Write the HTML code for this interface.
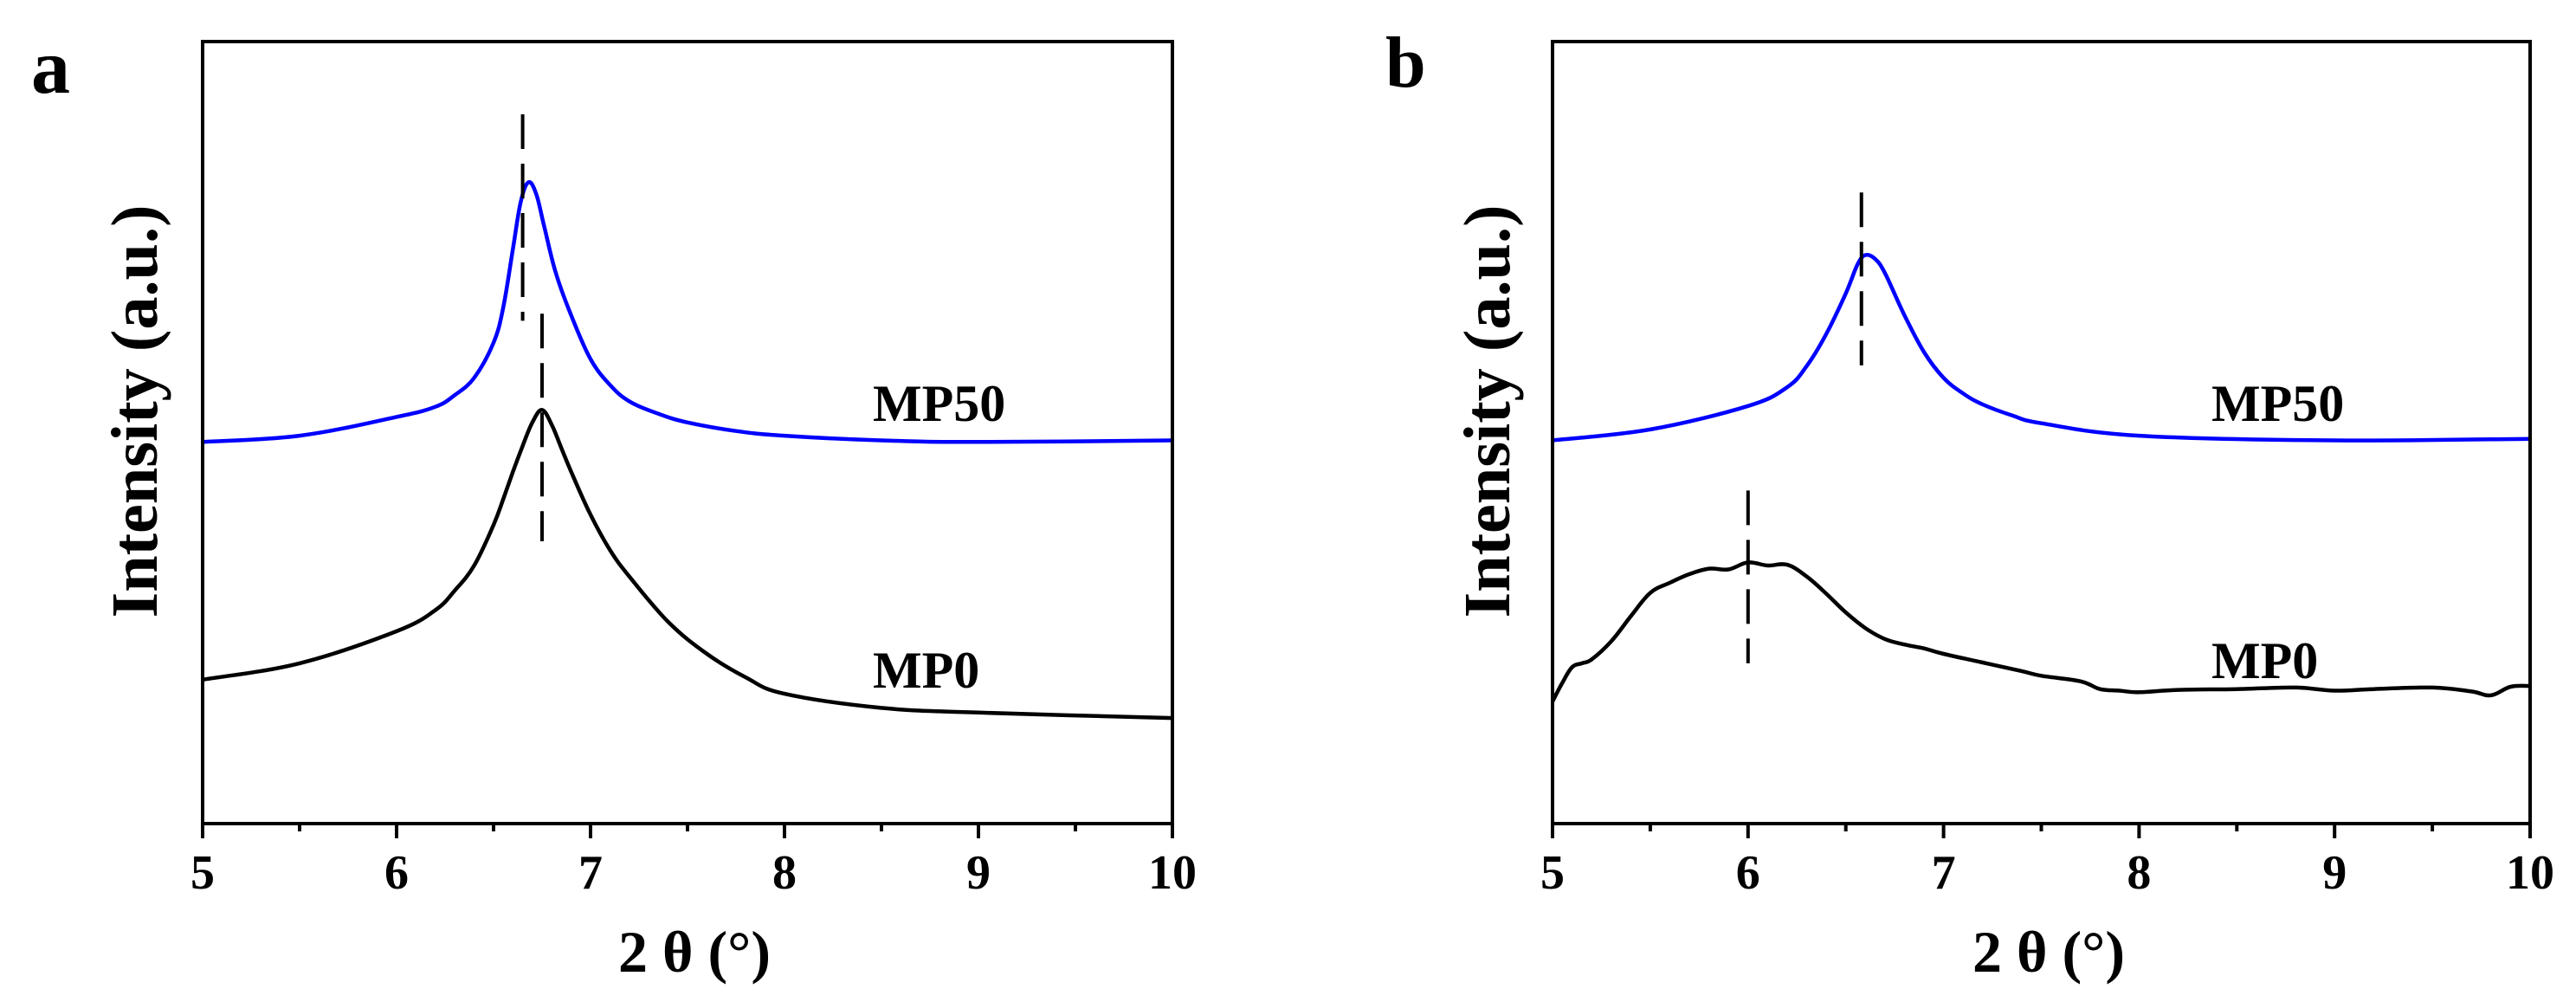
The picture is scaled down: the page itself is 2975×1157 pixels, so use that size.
<!DOCTYPE html>
<html><head><meta charset="utf-8"><style>
html,body{margin:0;padding:0;background:#fff;}
svg{display:block;font-family:"Liberation Serif",serif;font-weight:bold;}
</style></head><body>
<svg id="fig" width="2975" height="1157" viewBox="0 0 2975 1157" xmlns="http://www.w3.org/2000/svg">
<rect width="2975" height="1157" fill="#fff"/>
</svg>
<script>
// ----- data -----
const xTicks = [5,6,7,8,9,10];
const xMinor = [5.5,6.5,7.5,8.5,9.5];
const aMP50x = [5,5.5,6.0,6.2,6.3,6.4,6.5,6.55,6.6,6.64,6.68,6.72,6.76,6.82,6.9,7.0,7.1,7.2,7.35,7.5,7.75,8,8.5,9,10];
const aMP50y = [48.8,49.6,52.0,53.3,54.8,57.0,61.5,66.0,73.5,79.5,82.0,80.5,76.5,70.5,65.0,59.4,56.1,54.0,52.4,51.3,50.2,49.6,49.0,48.8,49.0];
const aMP0x = [5,5.5,6.0,6.2,6.3,6.4,6.5,6.55,6.6,6.65,6.7,6.75,6.8,6.85,6.9,7.0,7.1,7.2,7.4,7.6,7.8,8.0,8.5,9,10];
const aMP0y = [18.4,20.5,24.6,27.3,29.8,33.0,38.2,41.5,45.0,48.3,51.3,52.9,51.0,48.0,45.0,39.5,35.0,31.6,25.8,21.7,18.7,16.6,14.8,14.2,13.5];
const bMP50x = [5,5.5,6.0,6.2,6.3,6.4,6.5,6.56,6.6,6.65,6.7,6.8,6.9,7.0,7.1,7.2,7.35,7.5,8,9,10];
const bMP50y = [49.0,50.4,53.4,55.8,58.5,62.6,67.8,71.5,72.7,72.2,70.4,65.0,60.3,57.0,55.0,53.6,52.2,51.2,49.6,49.0,49.2];
const bMP0x = [5,5.05,5.1,5.15,5.2,5.3,5.4,5.5,5.6,5.7,5.8,5.9,6.0,6.1,6.2,6.3,6.4,6.5,6.6,6.7,6.8,6.9,7.0,7.2,7.4,7.5,7.7,7.8,7.9,8,8.2,8.5,8.8,9,9.2,9.5,9.7,9.8,9.9,10];
const bMP0y = [15.6,18.0,20.0,20.5,21.0,23.3,26.5,29.5,30.8,31.9,32.6,32.5,33.4,33.0,33.1,31.6,29.4,27.0,25.0,23.6,22.9,22.4,21.7,20.6,19.5,18.9,18.2,17.2,17.0,16.8,17.1,17.2,17.4,17.0,17.2,17.4,16.9,16.4,17.5,17.6];
const aDashX = [6.65,6.75];
const aDashY0 = [64.3,36.1];
const aDashY1 = [90.7,65.2];
const bDashX = [6.58,6.0];
const bDashY0 = [58.6,20.5];
const bDashY1 = [80.7,42.6];

const NS="http://www.w3.org/2000/svg";
const svg=document.getElementById('fig');
function mk(tag,attrs,parent){const e=document.createElementNS(NS,tag);for(const k in attrs)e.setAttribute(k,attrs[k]);(parent||svg).appendChild(e);return e;}

function smoothPath(pts){
  let d='M'+pts[0][0].toFixed(1)+' '+pts[0][1].toFixed(1);
  for(let i=0;i<pts.length-1;i++){
    const p0=pts[i-1]||pts[i],p1=pts[i],p2=pts[i+1],p3=pts[i+2]||p2;
    const t=0.18;
    const c1=[p1[0]+(p2[0]-p0[0])*t,p1[1]+(p2[1]-p0[1])*t];
    const c2=[p2[0]-(p3[0]-p1[0])*t,p2[1]-(p3[1]-p1[1])*t];
    d+='C'+c1[0].toFixed(1)+' '+c1[1].toFixed(1)+' '+c2[0].toFixed(1)+' '+c2[1].toFixed(1)+' '+p2[0].toFixed(1)+' '+p2[1].toFixed(1);
  }
  return d;
}

function panel(cfg){
  const g=mk('g',{});
  
  
  const L=cfg.left,R=cfg.right,T=48,B=951;
  const sx=v=>L+(v-5)/5*(R-L);
  const sy=v=>B-v/100*(B-T);
  cfg.series.forEach(s=>{
    const pts=s.x.map((xv,i)=>[sx(xv),sy(s.y[i])]);
    const p=mk('path',{d:smoothPath(pts),fill:'none',stroke:s.color,'stroke-width':4.5,'stroke-linejoin':'round'},g);
    
    
  });
  cfg.dx.forEach((xv,i)=>{
    const l=mk('line',{x1:sx(xv),x2:sx(xv),y1:sy(cfg.dy1[i]),y2:sy(cfg.dy0[i]),stroke:'#000','stroke-width':4,'stroke-dasharray':'40 17'},g);
    
    
  });
  const f=mk('rect',{x:L,y:T,width:R-L,height:B-T,fill:'none',stroke:'#000','stroke-width':4},g);
  
  
  xTicks.forEach(t=>{
    const tk=mk('line',{x1:sx(t),x2:sx(t),y1:B,y2:B+17,stroke:'#000','stroke-width':4},g);
    
    
    const tl=mk('text',{x:sx(t),y:1026,'font-size':56,'text-anchor':'middle'},g);
    tl.textContent=t;
    
    
  });
  xMinor.forEach(t=>{
    const tk=mk('line',{x1:sx(t),x2:sx(t),y1:B,y2:B+9,stroke:'#000','stroke-width':4},g);
    
    
  });
  const xt=mk('text',{x:cfg.xtx,y:1122,'font-size':68,'text-anchor':'middle'},g);
  xt.textContent='2 θ (°)';
  
  
  const yt=mk('text',{x:0,y:0,'font-size':76,'text-anchor':'middle',transform:'translate('+(cfg.ytx+26)+',475) rotate(-90)',textLength:477,lengthAdjust:'spacingAndGlyphs'},g);
  yt.textContent='Intensity (a.u.)';
  
  
  const pl=mk('text',{x:cfg.plx,y:cfg.ply,'font-size':cfg.plfs},g);
  pl.textContent=cfg.letter;
  
  
  cfg.labels.forEach(lb=>{
    const t=mk('text',{x:lb.x,y:lb.y+21,'font-size':60},g);
    t.textContent=lb.t;
    
    
  });
}

panel({name:'panel-a',left:234,right:1354,letter:'a',plx:36,ply:107,plfs:90,xtx:802,ytx:155,
  series:[{name:'mp50-curve',color:'#0000ff',x:aMP50x,y:aMP50y},{name:'mp0-curve',color:'#000',x:aMP0x,y:aMP0y}],
  dx:aDashX,dy0:aDashY0,dy1:aDashY1,
  labels:[{t:'MP50',x:1008,y:465},{t:'MP0',x:1008,y:773}]});
panel({name:'panel-b',left:1793,right:2922,letter:'b',plx:1600,ply:100,plfs:84,xtx:2366,ytx:1717,
  series:[{name:'mp50-curve',color:'#0000ff',x:bMP50x,y:bMP50y},{name:'mp0-curve',color:'#000',x:bMP0x,y:bMP0y}],
  dx:bDashX,dy0:bDashY0,dy1:bDashY1,
  labels:[{t:'MP50',x:2554,y:465},{t:'MP0',x:2554,y:762}]});
</script>
</body></html>
